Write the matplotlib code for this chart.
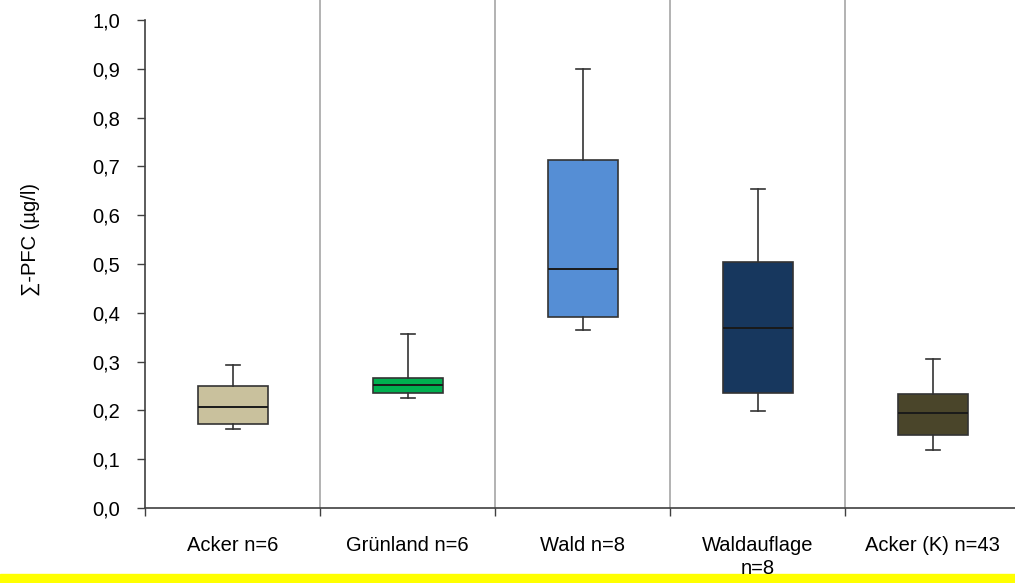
import matplotlib.pyplot as plt
from matplotlib.patches import Rectangle

# Box plot summary per land use (min, Q1, median, Q3, max)
categories = ['Acker n=6', 'Grünland n=6', 'Wald n=8', 'Waldauflage\nn=8', 'Acker (K) n=43']
whisker_lo = [0.162, 0.225, 0.365, 0.199, 0.119]
q1 = [0.173, 0.236, 0.391, 0.236, 0.150]
median = [0.206, 0.253, 0.489, 0.368, 0.194]
q3 = [0.251, 0.266, 0.714, 0.505, 0.233]
whisker_hi = [0.293, 0.356, 0.900, 0.653, 0.305]
colors = ['#C9C19D', '#00B050', '#558ED5', '#17375E', '#4A452A']
yticks = [0.0, 0.1, 0.2, 0.3, 0.4, 0.5, 0.6, 0.7, 0.8, 0.9, 1.0]

plt.rcParams['font.family'] = ['Liberation Sans', 'DejaVu Sans']

fig = plt.figure(figsize=(10.15, 5.83), dpi=100)
ax = fig.add_axes([145 / 1015, 75 / 583, 875 / 1015, 488 / 583])

stats = []
for i in range(len(categories)):
    stats.append({'whislo': whisker_lo[i], 'q1': q1[i], 'med': median[i],
                  'q3': q3[i], 'whishi': whisker_hi[i], 'fliers': []})

bp = ax.bxp(stats, positions=range(len(categories)), widths=0.4, patch_artist=True,
            showfliers=False,
            boxprops=dict(edgecolor='#333333', linewidth=1.2),
            medianprops=dict(color='#1a1a1a', linewidth=1.4),
            whiskerprops=dict(color='#333333', linewidth=1.2),
            capprops=dict(color='#333333', linewidth=1.2),
            capwidths=0.08)
for box, c in zip(bp['boxes'], colors):
    box.set_facecolor(c)

# separators between groups, running above the axis top
for x in [0.5, 1.5, 2.5, 3.5]:
    ax.plot([x, x], [0, 1.045], color='#A6A6A6', linewidth=1.2, clip_on=False, zorder=0)

ax.set_xlim(-0.5, 4.5)
ax.set_ylim(0, 1.0)
ax.set_yticks(yticks)
ax.set_yticklabels([f'{v:.1f}'.replace('.', ',') for v in yticks], fontsize=14.5)
ax.set_xticks([-0.5, 0.5, 1.5, 2.5, 3.5, 4.5])
ax.set_xticklabels([])
ax.set_xticks(range(len(categories)), minor=True)
ax.set_xticklabels(categories, minor=True, fontsize=14.5, linespacing=1.25)
ax.tick_params(axis='x', which='minor', length=0, pad=20)
ax.tick_params(axis='x', which='major', length=6, width=1, color='#404040')
ax.tick_params(axis='y', length=6, width=1, color='#404040', pad=12)

for s in ['top', 'right']:
    ax.spines[s].set_visible(False)
for s in ['left', 'bottom']:
    ax.spines[s].set_color('#404040')
    ax.spines[s].set_linewidth(1.2)

ax.set_ylabel('∑-PFC (µg/l)', fontsize=14.5)
ax.yaxis.set_label_coords(-0.12, 0.55)

# yellow strip along the bottom edge
fig.patches.append(Rectangle((0, 0), 1, 9 / 583, transform=fig.transFigure,
                             color='#FFFF00', zorder=-1))

fig.savefig('out.png', dpi=100)
